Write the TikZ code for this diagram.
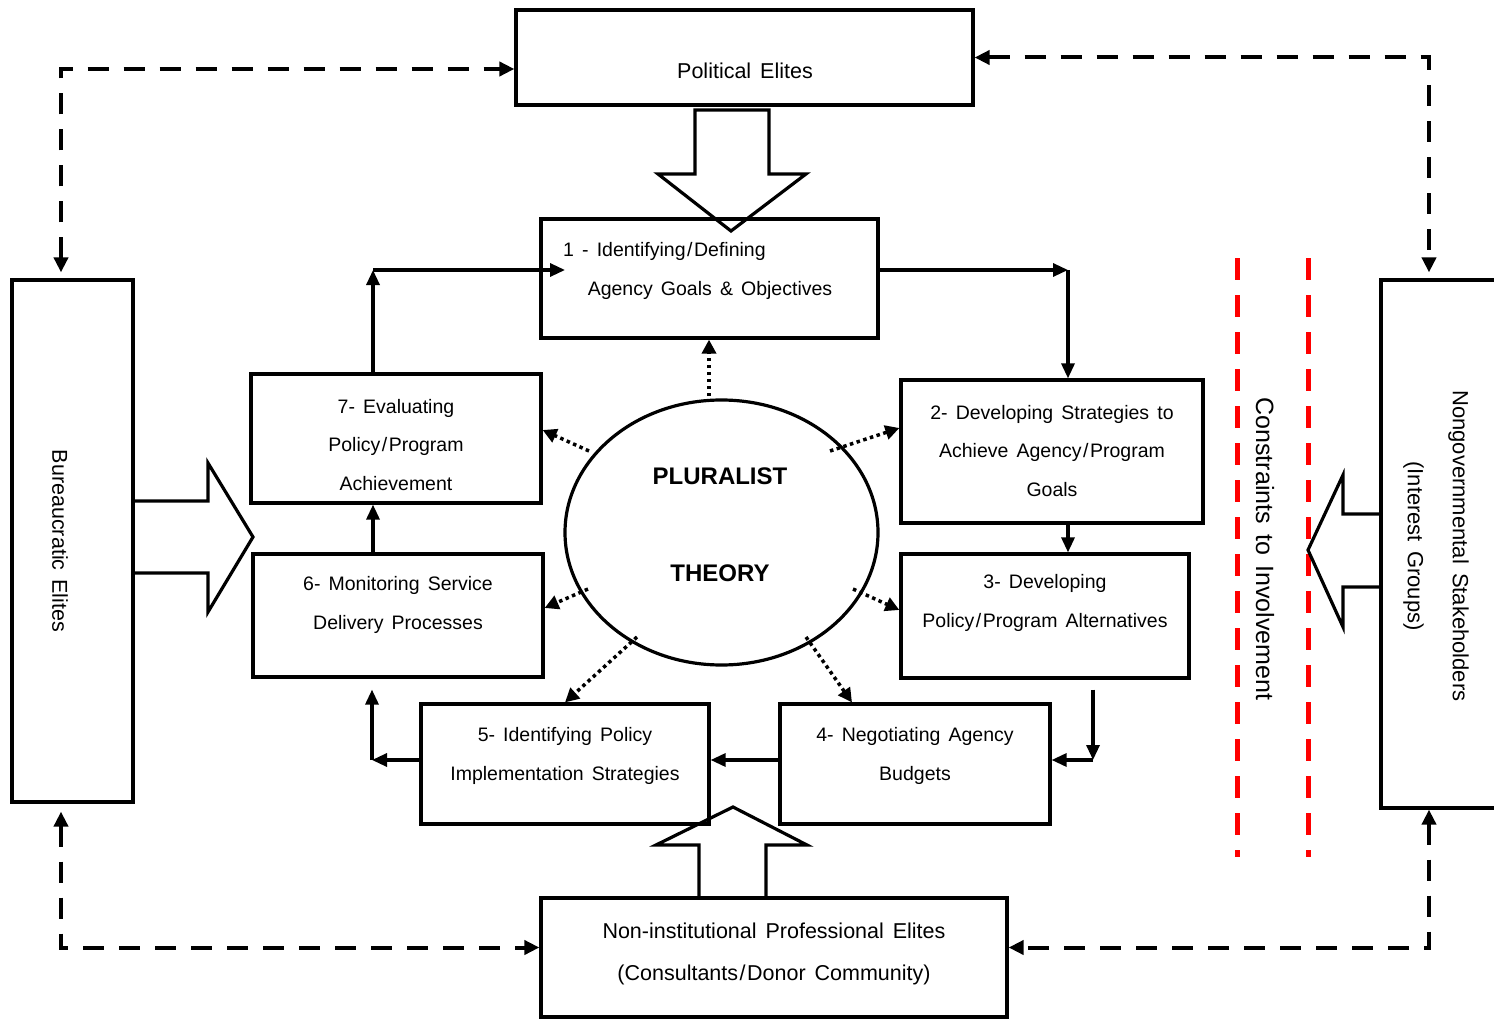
\documentclass[tikz,border=0pt]{standalone}
\usepackage{fontspec}
\setmainfont{Liberation Sans}[WordSpace=1.5]
\usetikzlibrary{arrows.meta,shapes.geometric,calc}
\newcommand{\sls}{\kern1.5pt/\kern1.5pt}
\begin{document}
\begin{tikzpicture}[x=1pt,y=-1pt,
  box/.style={draw, line width=3.2pt, rectangle, inner sep=0pt},
  txt/.style={font=\fontsize{19.5}{38.5}\selectfont, align=center, inner sep=0pt},
  conn/.style={line width=3.2pt, -{Triangle[length=15pt,width=13pt]}},
  dconn/.style={line width=4pt, dash pattern=on 21pt off 15pt,
     {Triangle[length=15pt,width=14pt]}-{Triangle[length=15pt,width=14pt]}},
  dots/.style={line width=3.5pt, dash pattern=on 3.5pt off 3.5pt, -{Triangle[length=14pt,width=14pt]}},
  redline/.style={draw=red, line width=5pt, dash pattern=on 22pt off 15pt},
  blockarrow/.style={draw, line width=3.2pt, line join=miter}
]
\useasboundingbox (0,0) rectangle (1494,1019);
\clip (0,0) rectangle (1494,1019);

% boxes
\node[box, minimum width=457pt, minimum height=95pt] (pol) at (744.5,57.5) {};
\node[box, minimum width=121pt, minimum height=522pt] (bur) at (72.5,541) {};
\node[box, minimum width=139pt, minimum height=528pt] (ng) at (1450.5,544) {};
\node[box, minimum width=466pt, minimum height=119pt] (ni) at (774,957.5) {};
\node[box, minimum width=337pt, minimum height=119pt] (b1) at (709.5,278.5) {};
\node[box, minimum width=302pt, minimum height=143pt] (b2) at (1052,451.5) {};
\node[box, minimum width=288pt, minimum height=124pt] (b3) at (1045,616) {};
\node[box, minimum width=270pt, minimum height=120pt] (b4) at (915,764) {};
\node[box, minimum width=288pt, minimum height=120pt] (b5) at (565,764) {};
\node[box, minimum width=290pt, minimum height=123pt] (b6) at (398,615.5) {};
\node[box, minimum width=290pt, minimum height=129pt] (b7) at (396,438.5) {};
\node[draw, line width=3.2pt, ellipse, minimum width=313pt, minimum height=265pt, inner sep=0pt] (th) at (721.5,532.5) {};

% texts
\node[txt, font=\fontsize{21.5}{28}\selectfont] (tpol) at (745,71) {Political Elites};
\node[txt, anchor=west] (t1a) at (563,251) {1 - Identifying\sls Defining};
\node[txt] (t1b) at (710,290) {Agency Goals \& Objectives};
\node[txt] (t2) at (1052,451) {2- Developing Strategies to\\Achieve Agency\sls Program\\Goals};
\node[txt] (t3) at (1045,603) {3- Developing\\Policy\sls Program Alternatives};
\node[txt] (t4) at (915,756) {4- Negotiating Agency\\Budgets};
\node[txt] (t5) at (565,756) {5- Identifying Policy\\Implementation Strategies};
\node[txt] (t6) at (398,605) {6- Monitoring Service\\Delivery Processes};
\node[txt] (t7) at (396,445) {7- Evaluating\\Policy\sls Program\\Achievement};
\node[txt, font=\fontsize{21.5}{42}\selectfont] (tni) at (774,954) {Non-institutional Professional Elites\\(Consultants\sls Donor Community)};
\node[txt, font=\bfseries\fontsize{24}{28}\selectfont] (tpl) at (720,476) {PLURALIST};
\node[txt, font=\bfseries\fontsize{24}{28}\selectfont] (tth) at (720,573) {THEORY};
\node[txt, rotate=-90, font=\fontsize{21.5}{28}\selectfont] (tbur) at (60,541) {Bureaucratic Elites};
\node[txt, rotate=-90, font=\fontsize{22}{45}\selectfont] (tng) at (1436,546) {Nongovernmental Stakeholders\\(Interest Groups)};
\node[txt, rotate=-90, font=\fontsize{25}{30}\selectfont] (tcon) at (1265,549) {Constraints to Involvement};

% red dashed boundaries
\draw[redline] (1237,258) -- (1237,857);
\draw[redline] (1308,258) -- (1308,857);

% block arrows
\draw[blockarrow] (695,110) -- (695,174) -- (658,174) -- (731,231) -- (806,174) -- (769,174) -- (769,110) -- cycle;
\draw[blockarrow] (133,501) -- (208,501) -- (208,463) -- (253,537) -- (208,612) -- (208,573) -- (133,573);
\draw[blockarrow] (1381,514) -- (1343,514) -- (1343,475) -- (1308,550) -- (1343,627) -- (1343,587) -- (1381,587);
\draw[blockarrow] (699,898) -- (699,845) -- (656,845) -- (733,807) -- (807,845) -- (766,845) -- (766,898);

% dashed connectors
\draw[dconn, shorten <=6pt] ([xshift=-11.5pt]bur.north) |- ([yshift=-11.5pt]pol.west);
\draw[dconn, shorten >=6pt] (pol.east) -| ([xshift=-21.5pt]ng.north);
\draw[dconn, shorten <=8pt] ([xshift=-11.5pt]bur.south) |- ([yshift=10pt]ni.west);
\draw[dconn] ([xshift=-21.5pt]ng.south) |- ([yshift=10pt]ni.east);

% solid connectors
\coordinate (c71) at (373,270);
\coordinate (c1in) at (565,270);
\coordinate (c12) at (1068,270);
\coordinate (c34) at (1093,760);
\coordinate (c56) at (372,760);
\draw[conn] ([xshift=-23pt]b7.north) -- (c71);
\draw[conn] (c71) -- (c1in);
\draw[conn] ([yshift=8.5pt]b1.east) -- (c12);
\draw[conn] (c12) -- (c12 |- b2.north);
\draw[conn] (c12 |- b2.south) -- (c12 |- b3.north);
\draw[conn] ([xshift=48pt,yshift=-10pt]b3.south) -- (c34);
\draw[conn] (c34) -- (c34 -| b4.east);
\draw[conn] ([yshift=4pt]b4.west) -- ([yshift=4pt]b5.east);
\draw[conn] ([yshift=4pt]b5.west) -- (c56);
\draw[conn] (c56) -- ([xshift=-26pt,yshift=-11pt]b6.south);
\draw[conn] (b6.north -| c71) -- (b7.south -| c71);

% dotted connectors from the theory ellipse
\coordinate (d1) at (709,396);
\coordinate (d2) at (830,451);
\coordinate (d3) at (589,451);
\coordinate (d4) at (588,589);
\coordinate (d5) at (853,589);
\coordinate (d6) at (637,637);
\coordinate (d7) at (806,637);
\draw[dots] (d1) -- (d1 |- b1.south);
\draw[dots] (d2) -- ([yshift=23.5pt]b2.west);
\draw[dots] (d3) -- ([yshift=8.5pt]b7.east);
\draw[dots] (d4) -- ([yshift=7.5pt]b6.east);
\draw[dots] (d5) -- ([yshift=6pt]b3.west);
\draw[dots] (d6) -- (b5.north);
\draw[dots] (d7) -- ([xshift=-63pt]b4.north);
\end{tikzpicture}
\end{document}
